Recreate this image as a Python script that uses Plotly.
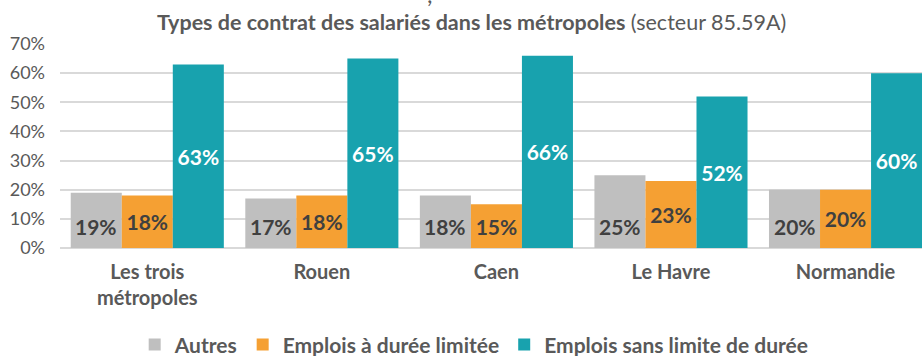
import plotly.graph_objects as go

# Chart data
categories = ["Les trois<br>métropoles", "Rouen", "Caen", "Le Havre", "Normandie"]
autres = [0.19, 0.17, 0.18, 0.25, 0.20]
duree_limitee = [0.18, 0.18, 0.15, 0.23, 0.20]
sans_limite = [0.63, 0.65, 0.66, 0.52, 0.60]
series_names = ["Autres", "Emplois à durée limitée", "Emplois sans limite de durée"]
y_ticks = [0, 0.1, 0.2, 0.3, 0.4, 0.5, 0.6, 0.7]

FONT = "Lato"
TXT = "#595959"
LABEL_DARK = "#404040"
GRAY = "#BFBFBF"
ORANGE = "#F5A033"
TEAL = "#18A2AE"

fig = go.Figure()

fig.add_trace(go.Bar(
    x=categories, y=autres, name=series_names[0],
    marker=dict(color=GRAY, line=dict(width=0)),
    hoverinfo="skip",
))
fig.add_trace(go.Bar(
    x=categories, y=duree_limitee, name=series_names[1],
    marker=dict(color=ORANGE, line=dict(width=0)),
    text=duree_limitee, texttemplate="%{y:.0%}",
    textposition="inside", insidetextanchor="middle",
    textfont=dict(family=FONT, size=21, color=LABEL_DARK, weight="bold"),
    constraintext="none", textangle=0,
    hoverinfo="skip",
))
fig.add_trace(go.Bar(
    x=categories, y=sans_limite, name=series_names[2],
    marker=dict(color=TEAL, line=dict(width=0)),
    text=sans_limite, texttemplate="%{y:.0%}",
    textposition="inside", insidetextanchor="middle",
    textfont=dict(family=FONT, size=21, color="white", weight="bold"),
    constraintext="none", textangle=0,
    hoverinfo="skip",
))

# Labels of the "Autres" bars sit low inside the bar
annotations = []
for i, v in enumerate(autres):
    annotations.append(dict(
        x=i, y=0.075, xref="x", yref="y", xshift=-51,
        text=f"<b>{round(v * 100)}%</b>", showarrow=False,
        font=dict(family=FONT, size=21, color=LABEL_DARK),
    ))

annotations.append(dict(
    x=0.477, y=1.108, xref="paper", yref="paper", yanchor="middle",
    text="<b>Types de contrat des salariés dans les métropoles</b> (secteur 85.59A)",
    showarrow=False, font=dict(family=FONT, size=21.5, color=TXT),
))
annotations.append(dict(
    x=0.429, y=1.33, xref="paper", yref="paper", yanchor="top",
    text=",", showarrow=False, font=dict(family=FONT, size=24, color=TXT),
))

fig.update_layout(
    width=922, height=356,
    margin=dict(l=60, r=0, t=44, b=108, autoexpand=False),
    paper_bgcolor="white", plot_bgcolor="white",
    barmode="group", bargap=0.123, bargroupgap=0,
    font=dict(family=FONT, color=TXT),
    showlegend=True,
    legend=dict(
        orientation="h", x=0.4805, xanchor="center",
        yref="container", y=0.031, yanchor="middle",
        font=dict(family=FONT, size=21, color=TXT, weight="bold"),
        itemsizing="constant", traceorder="normal",
    ),
    xaxis=dict(
        range=[-0.5, 4.438], showgrid=False, zeroline=False, showline=False,
        tickfont=dict(family=FONT, size=20, color=TXT, weight="bold"),
        ticks="", ticklabelstandoff=10, fixedrange=True,
    ),
    yaxis=dict(
        range=[0, 0.7], tickvals=y_ticks, tickformat=".0%",
        showgrid=True, gridcolor="#D9D9D9", gridwidth=1.5,
        zeroline=True, zerolinecolor="#D9D9D9", zerolinewidth=1.5,
        tickfont=dict(family=FONT, size=18, color=TXT),
        ticks="", ticklabelstandoff=14, fixedrange=True,
    ),
    annotations=annotations,
)

fig.write_html("out.html")
